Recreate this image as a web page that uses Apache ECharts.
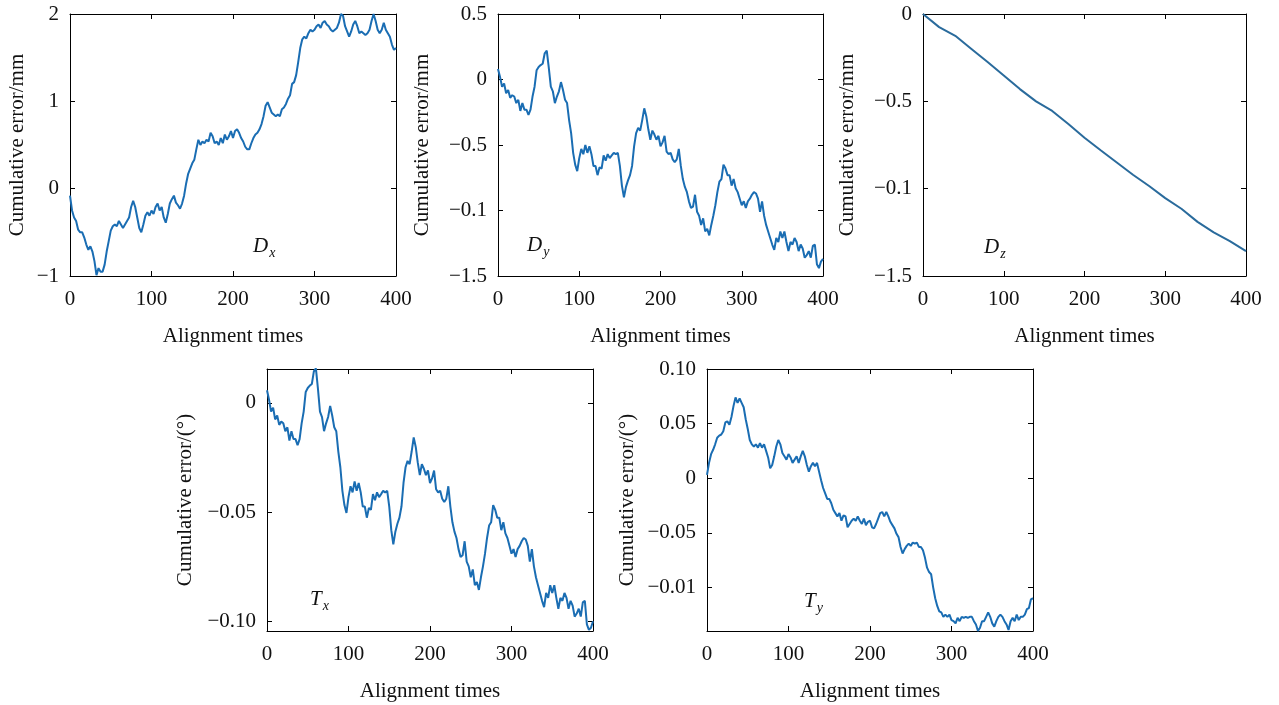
<!DOCTYPE html>
<html>
<head>
<meta charset="utf-8">
<script src="https://cdn.jsdelivr.net/npm/echarts@6/dist/echarts.min.js"></script>
<style>
  html, body { margin: 0; padding: 0; background: #fff; }
  #chart { width: 1279px; height: 705px; }
</style>
</head>
<body>
<div id="chart"></div>
<script>
// Dx, Dy, Tx and Ty are read every 2.5 alignment times (0 .. 400)
const dxValues = [-0.08, -0.25, -0.33, -0.37, -0.47, -0.5, -0.5, -0.56, -0.64, -0.70,
  -0.66, -0.72, -0.83, -0.99, -0.91, -0.95, -0.95, -0.87, -0.72, -0.6,
  -0.48, -0.43, -0.41, -0.43, -0.37, -0.41, -0.45, -0.41, -0.37, -0.33,
  -0.21, -0.14, -0.21, -0.33, -0.45, -0.5, -0.41, -0.31, -0.27, -0.31,
  -0.25, -0.29, -0.21, -0.17, -0.25, -0.21, -0.33, -0.39, -0.29, -0.17,
  -0.12, -0.08, -0.16, -0.19, -0.23, -0.17, -0.08, 0.06, 0.17, 0.23,
  0.29, 0.33, 0.45, 0.56, 0.50, 0.54, 0.52, 0.56, 0.54, 0.64,
  0.60, 0.52, 0.54, 0.50, 0.58, 0.52, 0.62, 0.56, 0.60, 0.66,
  0.58, 0.66, 0.68, 0.64, 0.58, 0.54, 0.48, 0.45, 0.45, 0.52,
  0.58, 0.62, 0.64, 0.68, 0.74, 0.83, 0.95, 0.99, 0.93, 0.87,
  0.85, 0.83, 0.85, 0.83, 0.91, 0.93, 0.97, 1.03, 1.07, 1.2,
  1.22, 1.3, 1.45, 1.61, 1.71, 1.74, 1.72, 1.78, 1.82, 1.80,
  1.82, 1.86, 1.88, 1.84, 1.90, 1.92, 1.88, 1.86, 1.82, 1.80,
  1.82, 1.84, 1.90, 2.0, 1.98, 1.86, 1.80, 1.74, 1.80, 1.88,
  1.92, 1.86, 1.78, 1.80, 1.78, 1.76, 1.78, 1.82, 1.92, 2.0,
  1.92, 1.82, 1.78, 1.82, 1.90, 1.82, 1.78, 1.74, 1.65, 1.59,
  1.61]

const dyValues = [0.08, 0.02, -0.055, -0.03, -0.105, -0.08, -0.14, -0.12, -0.13, -0.18,
  -0.155, -0.24, -0.18, -0.23, -0.23, -0.27, -0.23, -0.13, -0.055, 0.07,
  0.095, 0.11, 0.12, 0.2, 0.22, 0.09, -0.055, -0.09, -0.18, -0.13,
  -0.09, -0.02, -0.08, -0.155, -0.18, -0.31, -0.41, -0.56, -0.65, -0.70,
  -0.6, -0.53, -0.57, -0.5, -0.56, -0.51, -0.57, -0.66, -0.66, -0.73,
  -0.67, -0.68, -0.58, -0.62, -0.57, -0.6, -0.58, -0.56, -0.57, -0.56,
  -0.66, -0.81, -0.90, -0.82, -0.77, -0.73, -0.66, -0.51, -0.41, -0.37,
  -0.39, -0.31, -0.22, -0.28, -0.38, -0.46, -0.39, -0.42, -0.46, -0.43,
  -0.51, -0.48, -0.43, -0.55, -0.57, -0.56, -0.61, -0.63, -0.61, -0.53,
  -0.66, -0.76, -0.82, -0.86, -0.93, -0.98, -0.97, -0.88, -1.01, -1.04,
  -1.11, -1.06, -1.16, -1.14, -1.19, -1.11, -1.04, -0.96, -0.86, -0.78,
  -0.76, -0.65, -0.68, -0.73, -0.73, -0.81, -0.76, -0.83, -0.86, -0.91,
  -0.96, -0.93, -0.98, -0.93, -0.91, -0.88, -0.86, -0.87, -0.91, -1.01,
  -0.93, -1.04, -1.11, -1.16, -1.21, -1.26, -1.30, -1.21, -1.24, -1.16,
  -1.21, -1.16, -1.24, -1.31, -1.24, -1.26, -1.21, -1.24, -1.31, -1.26,
  -1.29, -1.36, -1.34, -1.31, -1.36, -1.27, -1.26, -1.41, -1.44, -1.39,
  -1.37]

const dzTimes = [0, 20, 40, 60, 80, 100, 120, 140, 160, 180, 200, 220, 240, 260, 280, 300, 320, 340, 360, 380, 400]
const dzValues = [0, -0.075, -0.125, -0.2, -0.275, -0.352, -0.43, -0.5, -0.555, -0.63,
  -0.708, -0.78, -0.85, -0.92, -0.985, -1.054, -1.115, -1.19, -1.25, -1.3, -1.358]

const txValues = [0.0058, 0.0014, -0.0040, -0.0022, -0.0076, -0.0058, -0.0101, -0.0086, -0.0094, -0.0130,
  -0.0112, -0.0173, -0.0130, -0.0166, -0.0166, -0.0194, -0.0166, -0.0094, -0.0040, 0.0050,
  0.0068, 0.0079, 0.0086, 0.0144, 0.0158, 0.0065, -0.0040, -0.0065, -0.0130, -0.0094,
  -0.0065, -0.0014, -0.0058, -0.0112, -0.0130, -0.0223, -0.0295, -0.0403, -0.0468, -0.0504,
  -0.0432, -0.0382, -0.0410, -0.0360, -0.0403, -0.0367, -0.0410, -0.0475, -0.0475, -0.0526,
  -0.0482, -0.0490, -0.0418, -0.0446, -0.0410, -0.0432, -0.0418, -0.0403, -0.0410, -0.0403,
  -0.0475, -0.0583, -0.0648, -0.0590, -0.0554, -0.0526, -0.0475, -0.0367, -0.0295, -0.0266,
  -0.0281, -0.0223, -0.0158, -0.0202, -0.0274, -0.0331, -0.0281, -0.0302, -0.0331, -0.0310,
  -0.0367, -0.0346, -0.0310, -0.0396, -0.0410, -0.0403, -0.0439, -0.0454, -0.0439, -0.0382,
  -0.0475, -0.0547, -0.0590, -0.0619, -0.0670, -0.0706, -0.0698, -0.0634, -0.0727, -0.0749,
  -0.0799, -0.0763, -0.0835, -0.0821, -0.0857, -0.0799, -0.0749, -0.0691, -0.0619, -0.0562,
  -0.0547, -0.0468, -0.0490, -0.0526, -0.0526, -0.0583, -0.0547, -0.0598, -0.0619, -0.0655,
  -0.0691, -0.0670, -0.0706, -0.0670, -0.0655, -0.0634, -0.0619, -0.0626, -0.0655, -0.0727,
  -0.0670, -0.0749, -0.0799, -0.0835, -0.0871, -0.0907, -0.0936, -0.0871, -0.0893, -0.0835,
  -0.0871, -0.0835, -0.0893, -0.0943, -0.0893, -0.0907, -0.0871, -0.0893, -0.0943, -0.0907,
  -0.0929, -0.0979, -0.0965, -0.0943, -0.0979, -0.0914, -0.0907, -0.1015, -0.1040, -0.1030,
  -0.1000]

const tyValues = [0.003, 0.014, 0.022, 0.026, 0.031, 0.037, 0.039, 0.040, 0.043, 0.051,
  0.052, 0.049, 0.056, 0.066, 0.074, 0.069, 0.073, 0.069, 0.065, 0.054,
  0.045, 0.035, 0.031, 0.029, 0.031, 0.028, 0.032, 0.028, 0.031, 0.025,
  0.019, 0.009, 0.012, 0.020, 0.029, 0.035, 0.031, 0.023, 0.020, 0.017,
  0.022, 0.019, 0.014, 0.017, 0.020, 0.014, 0.020, 0.025, 0.020, 0.012,
  0.006, 0.011, 0.014, 0.011, 0.014, 0.006, -0.002, -0.009, -0.014, -0.019,
  -0.019, -0.023, -0.029, -0.032, -0.035, -0.032, -0.039, -0.034, -0.035, -0.045,
  -0.042, -0.039, -0.037, -0.039, -0.035, -0.039, -0.042, -0.037, -0.043, -0.040,
  -0.039, -0.045, -0.046, -0.042, -0.037, -0.032, -0.031, -0.035, -0.031, -0.035,
  -0.040, -0.043, -0.046, -0.051, -0.054, -0.063, -0.069, -0.065, -0.062, -0.060,
  -0.062, -0.059, -0.060, -0.059, -0.063, -0.063, -0.066, -0.073, -0.082, -0.086,
  -0.088, -0.100, -0.110, -0.117, -0.122, -0.123, -0.127, -0.125, -0.127, -0.125,
  -0.130, -0.131, -0.133, -0.128, -0.131, -0.127, -0.128, -0.127, -0.128, -0.127,
  -0.127, -0.131, -0.134, -0.140, -0.137, -0.131, -0.131, -0.127, -0.123, -0.127,
  -0.133, -0.136, -0.131, -0.127, -0.125, -0.127, -0.131, -0.134, -0.139, -0.131,
  -0.128, -0.131, -0.125, -0.130, -0.127, -0.127, -0.125, -0.120, -0.119, -0.111,
  -0.110]

const xTicks = [0, 100, 200, 300, 400]
const dxTicks = [-1, 0, 1, 2]
const dxTickLabels = ['−1', '0', '1', '2']
const dyTicks = [-1.5, -1, -0.5, 0, 0.5]
const dyTickLabels = ['−1.5', '−0.1', '−0.5', '0', '0.5']
const dzTicks = [-1.5, -1, -0.5, 0]
const dzTickLabels = ['−1.5', '−0.1', '−0.5', '0']
const txTicks = [-0.1, -0.05, 0]
const txTickLabels = ['−0.10', '−0.05', '0']
const tyTicks = [-0.1, -0.05, 0, 0.05, 0.1]
const tyTickLabels = ['−0.01', '−0.05', '0', '0.05', '0.10']

const FONT = 'Liberation Serif'
const LINE_COLOR = '#1a6db3'

function pairs (times, values) {
  return values.map((v, i) => [times ? times[i] : i * 400 / (values.length - 1), v])
}

const panels = [
  { left: 70, top: 14, width: 326, height: 262, min: -1, max: 2, ticks: dxTicks, labels: dxTickLabels,
    yName: 'Cumulative error/mm', yGap: 42, tag: 'x', tagPos: [253, 233], data: pairs(null, dxValues), color: LINE_COLOR },
  { left: 498, top: 14, width: 325, height: 262, min: -1.5, max: 0.5, ticks: dyTicks, labels: dyTickLabels,
    yName: 'Cumulative error/mm', yGap: 65, tag: 'y', tagPos: [527, 232], data: pairs(null, dyValues), color: LINE_COLOR },
  { left: 923, top: 14, width: 323, height: 262, min: -1.5, max: 0, ticks: dzTicks, labels: dzTickLabels,
    yName: 'Cumulative error/mm', yGap: 65, tag: 'z', tagPos: [984, 234], data: pairs(dzTimes, dzValues), color: '#2a6b9c' },
  { left: 267, top: 369, width: 326, height: 262, min: -0.1045, max: 0.0155, ticks: txTicks, labels: txTickLabels,
    yName: 'Cumulative error/(°)', yGap: 71, tag: 'x', tagPos: [310, 586], tagMain: 'T', data: pairs(null, txValues), color: LINE_COLOR },
  { left: 707, top: 369, width: 326, height: 262, min: -0.14, max: 0.10, ticks: tyTicks, labels: tyTickLabels,
    yName: 'Cumulative error/(°)', yGap: 69, tag: 'y', tagPos: [804, 588], tagMain: 'T', data: pairs(null, tyValues), color: LINE_COLOR }
]

const grid = []
const xAxis = []
const yAxis = []
const series = []
const title = []

panels.forEach((p, i) => {
  grid.push({ left: p.left, top: p.top, width: p.width, height: p.height, show: false })
  const lineStyle = { show: true, onZero: false, lineStyle: { color: '#000', width: 1 } }
  const tickStyle = { inside: true, length: 5, lineStyle: { color: '#000', width: 1 } }
  const tickLabel = { color: '#111', fontFamily: FONT, fontSize: 21 }
  const nameStyle = { color: '#111', fontFamily: FONT, fontSize: 21 }
  xAxis.push({
    type: 'value', gridIndex: i, position: 'bottom', min: 0, max: 400,
    axisLine: lineStyle, splitLine: { show: false },
    axisTick: Object.assign({ customValues: xTicks }, tickStyle),
    axisLabel: Object.assign({ customValues: xTicks, margin: 13 }, tickLabel),
    name: 'Alignment times', nameLocation: 'middle', nameGap: 50,
    nameTextStyle: nameStyle
  })
  xAxis.push({
    type: 'value', gridIndex: i, position: 'top', min: 0, max: 400,
    axisLine: lineStyle, splitLine: { show: false },
    axisTick: Object.assign({ customValues: xTicks }, tickStyle),
    axisLabel: { show: false }
  })
  yAxis.push({
    type: 'value', gridIndex: i, position: 'left', min: p.min, max: p.max,
    axisLine: lineStyle, splitLine: { show: false },
    axisTick: Object.assign({ customValues: p.ticks }, tickStyle),
    axisLabel: Object.assign({
      customValues: p.ticks,
      margin: 11,
      formatter: v => p.labels[p.ticks.findIndex(t => Math.abs(t - v) < 1e-9)]
    }, tickLabel),
    name: p.yName, nameLocation: 'middle', nameGap: p.yGap, nameRotate: 90,
    nameTextStyle: nameStyle
  })
  yAxis.push({
    type: 'value', gridIndex: i, position: 'right', min: p.min, max: p.max,
    axisLine: lineStyle, splitLine: { show: false },
    axisTick: Object.assign({ customValues: p.ticks }, tickStyle),
    axisLabel: { show: false }
  })
  series.push({
    type: 'line', xAxisIndex: i * 2, yAxisIndex: i * 2, data: p.data,
    showSymbol: false, clip: true,
    lineStyle: { color: p.color, width: 2 }
  })
  title.push({
    text: '{m|' + (p.tagMain || 'D') + '}{s|' + p.tag + '}',
    left: p.tagPos[0], top: p.tagPos[1], padding: 0,
    textStyle: {
      fontWeight: 'normal',
      rich: {
        m: { fontFamily: FONT, fontStyle: 'italic', fontWeight: 'normal', fontSize: 21, color: '#111' },
        s: { fontFamily: FONT, fontStyle: 'italic', fontWeight: 'normal', fontSize: 14, color: '#111', verticalAlign: 'bottom', padding: [13, 0, 0, 1] }
      }
    }
  })
})

const chart = echarts.init(document.getElementById('chart'))
chart.setOption({
  animation: false,
  backgroundColor: '#fff',
  title,
  grid,
  xAxis,
  yAxis,
  series
})
</script>
</body>
</html>
